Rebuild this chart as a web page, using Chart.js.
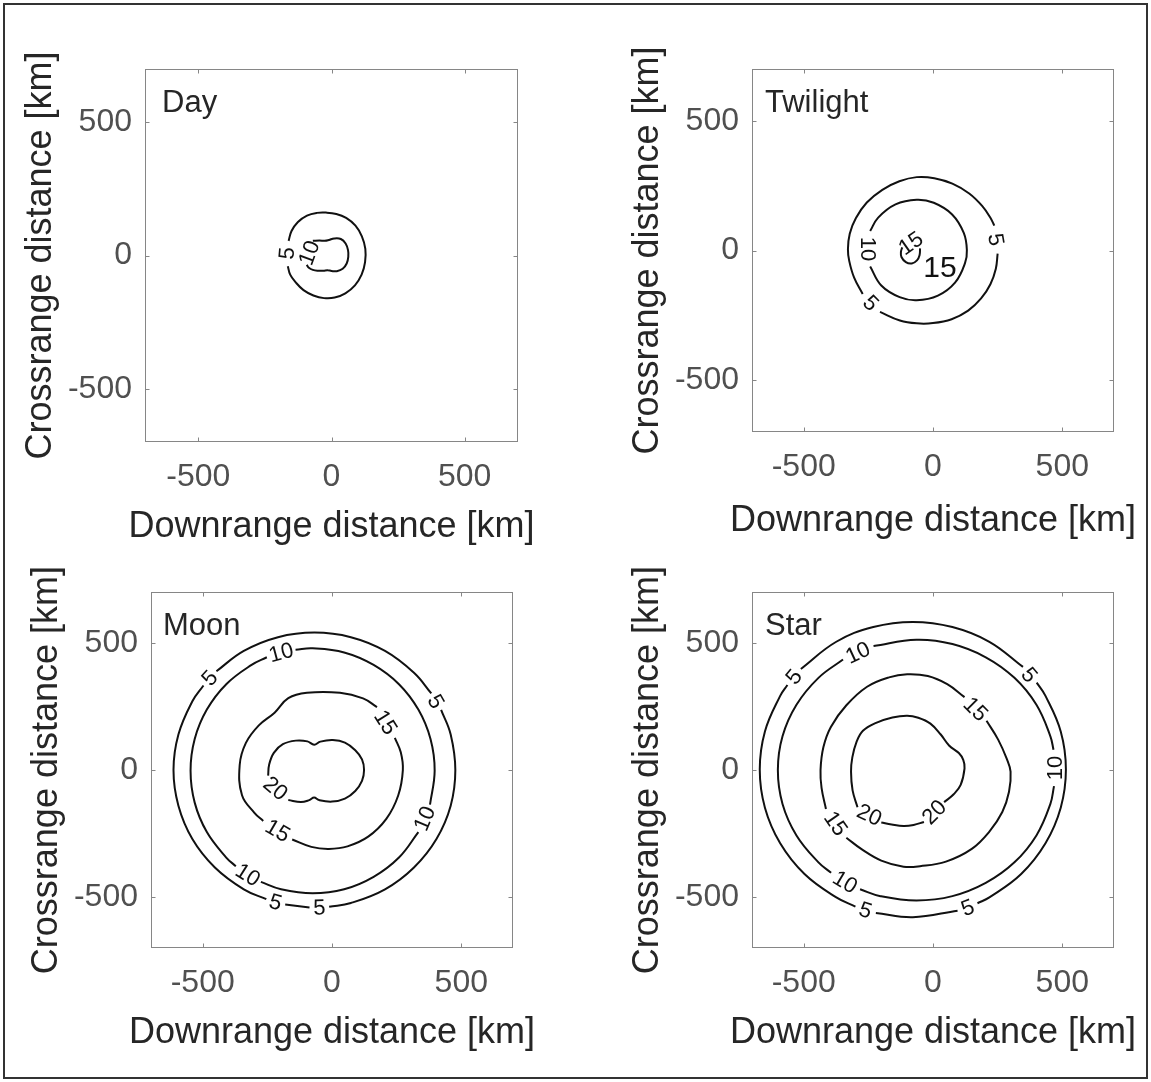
<!DOCTYPE html>
<html>
<head>
<meta charset="utf-8">
<title>Contours</title>
<script src="https://cdn.jsdelivr.net/npm/chart.js@4.4.0/dist/chart.umd.min.js"></script>
<style>
    body { margin: 0; background: #fff; }
    #frame { position: absolute; left: 3px; top: 3px; width: 1141px; height: 1072px; border: 2px solid #333; }
    canvas { position: absolute; }
</style>
</head>
<body>
<div id="frame"></div>
<canvas id="dayChart" width="575" height="560" style="left:0;top:0"></canvas>
<canvas id="twilightChart" width="576" height="560" style="left:575px;top:0"></canvas>
<canvas id="moonChart" width="575" height="522" style="left:0;top:560px"></canvas>
<canvas id="starChart" width="576" height="522" style="left:575px;top:560px"></canvas>
<script>
/* ================================
   Data (km), null = break for a label
================================ */
const xTicks = [-500, 0, 500];
const yTicks = [-500, 0, 500];
const xTitle = "Downrange distance [km]";
const yTitle = "Crossrange distance [km]";

// Day
const day5 = [[-161, 55], [-150, 92], [-126, 126], [-92, 150], [-55, 160], [-20, 161], [18, 156], [55, 141], [90, 112], [114, 72], [127, 25], [126, -25], [113, -72], [88, -112], [52, -142], [12, -158], [-28, -160], [-68, -150], [-105, -130], [-135, -100], [-155, -72], [-164, -40]];
const day10 = [[-70, 55], [-45, 56], [-25, 55], [-10, 58], [10, 64], [35, 62], [53, 45], [62, 20], [63, -5], [57, -30], [42, -50], [20, -59], [0, -58], [-15, -55], [-30, -57], [-50, -57], [-70, -54], [-85, -46], [-93, -35]];
const dayLabels = [[-168, 8, "5", -85], [-84, 10, "10", -70]];

// Twilight
const twilight5 = [[250, -12], [243, -70], [222, -130], [186, -185], [136, -232], [72, -265], [0, -280], [-63, -281], [-128, -270], [-205, -237], null, [-272, -168], [-305, -105], [-324, -40], [-329, 5], [-322, 65], [-298, 125], [-256, 185], [-196, 234], [-130, 267], [-63, 283], [5, 279], [75, 258], [140, 220], [190, 172], [222, 126], [237, 96]];
const twilight10 = [[-243, -62], [-200, -135], [-129, -180], [-63, -192], [19, -174], [86, -123], [124, -48], [131, 2], [119, 68], [74, 139], [3, 184], [-63, 196], [-145, 178], [-212, 127], [-243, 75]];
const twilight15 = [[-50, 8], [-52, -18], [-62, -38], [-82, -50], [-105, -45], [-122, -25], [-124, -5], [-119, 12]];
const twilightLabels = [[244, 42, "5", 80], [-240, -203, "5", 45], [-250, 6, "10", 90], [-86, 28, "15", -35]];
const twilightBigLabel = [27, -69, "15"];

// Moon
const moon5 = [[-447, 389], [-341, 469], [-209, 523], [-68, 541], [73, 523], [205, 469], [317, 383], [384, 302], null, [422, 237], [459, 140], [477, 0], [459, -140], [404, -271], [317, -383], [205, -469], [73, -523], [-11, -538], null, [-87, -541], [-181, -529], null, [-254, -508], [-341, -469], [-453, -383], [-540, -271], [-594, -140], [-613, 0], [-594, 140], [-540, 271], [-497, 333]];
const moon10 = [[-141, 474], [-75, 479], [47, 463], [161, 414], [259, 338], [334, 238], [381, 122], [397, -3], [379, -136], null, [334, -244], [259, -344], [161, -420], [47, -469], [-75, -485], [-197, -469], [-275, -440], null, [-372, -378], [-409, -344], [-484, -244], [-531, -128], [-547, -3], [-531, 122], [-484, 238], [-409, 338], [-311, 414], [-252, 444]];
const moon15 = [[-154, -273], [-80, -302], [-12, -310], [60, -300], [140, -262], [210, -192], [256, -100], [274, 0], [266, 70], [243, 127], null, [174, 248], [120, 282], [31, 304], [-97, 304], [-169, 283], [-222, 226], [-283, 176], [-333, 107], [-357, 20], [-348, -99], [-300, -168], [-266, -200]];
const moon20 = [[-169, -118], [-120, -126], [-88, -118], [-69, -108], [-50, -118], [0, -124], [50, -112], [90, -82], [116, -42], [124, 0], [116, 42], [90, 78], [50, 108], [3, 118], [-45, 112], [-69, 100], [-95, 113], [-140, 116], [-190, 102], [-225, 68], [-243, 22], [-247, -22]];
const moonLabels = [[-473, 362, "5", -48], [402, 270, "5", 60], [-218, -520, "5", 16], [-49, -541, "5", -2], [-197, 463, "10", -15], [358, -190, "10", -67], [-325, -412, "10", 32], [-210, -238, "15", 30], [208, 188, "15", 58], [-218, -72, "20", 40]];

// Star
const star5 = [[-511, 398], [-374, 505], [-231, 563], [-78, 583], [75, 563], [218, 505], [348, 406], null, [401, 344], [435, 292], [494, 152], [514, 2], [494, -148], [435, -288], [341, -409], [218, -501], [172, -524], null, [95, -553], [-78, -579], [-221, -562], null, [-300, -537], [-374, -501], [-497, -409], [-591, -288], [-650, -148], [-670, 2], [-650, 152], [-591, 292], [-563, 335]];
const star10 = [[-230, 488], [-64, 513], [75, 496], [204, 444], [315, 363], [400, 257], [454, 133], [466, 80], null, [468, -63], [454, -133], [400, -257], [315, -363], [204, -444], [75, -496], [-64, -513], [-203, -496], [-282, -469], null, [-394, -404], [-443, -363], [-528, -257], [-582, -133], [-600, 0], [-582, 133], [-528, 257], [-443, 363], [-348, 435]];
const star15 = [[207, 194], [252, 120], [285, 45], [300, -6], [294, -85], [268, -165], [218, -242], [150, -310], [50, -360], [-50, -378], [-114, -380], [-200, -356], [-275, -312], [-335, -266], null, [-414, -153], [-431, -70], [-435, 0], [-424, 90], [-395, 170], [-335, 255], [-255, 328], [-170, 365], [-100, 377], [-20, 370], [55, 338], [122, 287]];
const star20 = [[43, -126], [80, -95], [107, -58], [122, 7], [117, 40], [100, 67], [62, 97], [30, 140], [-10, 183], [-57, 206], [-100, 214], [-157, 207], [-220, 186], [-271, 155], [-296, 110], [-312, 50], [-317, -6], [-311, -80], [-292, -146], null, [-200, -206], [-160, -214], [-114, -220], [-75, -216], [-35, -204]];
const starLabels = [[-538, 367, "5", -51], [373, 375, "5", 50], [-261, -551, "5", 18], [134, -541, "5", -21], [-291, 462, "10", -25], [470, 8, "10", -90], [-340, -440, "10", 31], [165, 240, "15", 45], [-376, -210, "15", 55], [-246, -176, "20", 25], [4, -165, "20", -45]];

/* ================================
   Shared styling
================================ */
const FONT = "'Liberation Sans', Arial, Helvetica, sans-serif";

function toPoints(list) {
    return list.map(function (p) {
        return p ? { x: p[0], y: p[1] } : { x: NaN, y: NaN };
    });
}

/* ================================
   Box, inward ticks, axis titles, contour labels, panel name
   (axis titles drawn here: Chart.js squeezes titles to the plot width)
================================ */
function decorPlugin(cfg) {
    return {
        id: "decor",
        afterDraw: function (chart) {
            const ctx = chart.ctx;
            const a = chart.chartArea;
            const xs = chart.scales.x;
            const ys = chart.scales.y;
            const l = Math.round(a.left) + 0.5, r = Math.round(a.right) - 0.5;
            const t = Math.round(a.top) + 0.5, b = Math.round(a.bottom) - 0.5;

            ctx.save();
            ctx.strokeStyle = "#868686";
            ctx.lineWidth = 1;
            ctx.strokeRect(l, t, r - l, b - t);
            ctx.beginPath();
            xTicks.forEach(function (v) {
                const px = Math.round(xs.getPixelForValue(v)) + 0.5;
                ctx.moveTo(px, b); ctx.lineTo(px, b - 4);
                ctx.moveTo(px, t); ctx.lineTo(px, t + 4);
            });
            yTicks.forEach(function (v) {
                const py = Math.round(ys.getPixelForValue(v)) + 0.5;
                ctx.moveTo(l, py); ctx.lineTo(l + 4, py);
                ctx.moveTo(r, py); ctx.lineTo(r - 4, py);
            });
            ctx.stroke();

            // axis titles
            ctx.fillStyle = "#262626";
            ctx.textAlign = "center";
            ctx.textBaseline = "middle";
            ctx.font = "36px " + FONT;
            ctx.fillText(xTitle, (a.left + a.right) / 2, a.bottom + cfg.xTitleDy);
            ctx.save();
            ctx.translate(a.left - 104, (a.top + a.bottom) / 2);
            ctx.rotate(-Math.PI / 2);
            ctx.fillText(yTitle, 0, 0);
            ctx.restore();

            // contour level labels
            ctx.fillStyle = "#111";
            ctx.font = "22px " + FONT;
            cfg.labels.forEach(function (lb) {
                ctx.save();
                ctx.translate(xs.getPixelForValue(lb[0]), ys.getPixelForValue(lb[1]));
                ctx.rotate(lb[3] * Math.PI / 180);
                ctx.fillText(lb[2], 0, 1);
                ctx.restore();
            });
            if (cfg.bigLabel) {
                ctx.font = "30px " + FONT;
                ctx.fillText(cfg.bigLabel[2], xs.getPixelForValue(cfg.bigLabel[0]), ys.getPixelForValue(cfg.bigLabel[1]));
            }

            // panel name
            ctx.font = "31px " + FONT;
            ctx.fillStyle = "#262626";
            ctx.textAlign = "left";
            ctx.textBaseline = "alphabetic";
            ctx.fillText(cfg.title, a.left + cfg.titleDx, a.top + 43);
            ctx.restore();
        },
    };
}

/* ================================
   One contour panel
================================ */
function makePanel(id, cfg) {
    const datasets = cfg.contours.map(function (c) {
        return {
            data: toPoints(c),
            showLine: true,
            borderColor: "#111",
            borderWidth: 2,
            pointRadius: 0,
            tension: 0.4,
            spanGaps: false,
        };
    });

    const ctx = document.getElementById(id).getContext("2d");
    new Chart(ctx, {
        type: "scatter",
        data: { datasets: datasets },
        options: {
            responsive: false,
            animation: false,
            events: [],
            layout: { padding: { left: 0, top: cfg.padTop, right: cfg.padRight, bottom: 0 } },
            plugins: { legend: { display: false }, tooltip: { enabled: false } },
            scales: {
                x: {
                    type: "linear",
                    min: -700,
                    max: 700,
                    afterBuildTicks: function (s) {
                        s.ticks = xTicks.map(function (v) { return { value: v }; });
                    },
                    afterFit: function (s) { s.height = cfg.axisH; },
                    grid: { display: false, drawTicks: false },
                    border: { display: false },
                    ticks: {
                        font: { family: FONT, size: 32 },
                        color: "#505050",
                        padding: 16,
                        maxRotation: 0,
                        autoSkip: false,
                        callback: function (v) { return String(v); },
                    },
                },
                y: {
                    type: "linear",
                    min: -700,
                    max: 700,
                    afterBuildTicks: function (s) {
                        s.ticks = yTicks.map(function (v) { return { value: v }; });
                    },
                    afterFit: function (s) { s.width = cfg.axisW; },
                    grid: { display: false, drawTicks: false },
                    border: { display: false },
                    ticks: {
                        font: { family: FONT, size: 32 },
                        color: "#505050",
                        padding: 13,
                        autoSkip: false,
                        callback: function (v) { return String(v); },
                    },
                },
            },
        },
        plugins: [decorPlugin(cfg)],
    });
}

makePanel("dayChart", {
    contours: [day5, day10], labels: dayLabels, title: "Day", titleDx: 17,
    axisW: 145, axisH: 118, padTop: 69, padRight: 57, xTitleDy: 85,
});
makePanel("twilightChart", {
    contours: [twilight5, twilight10, twilight15], labels: twilightLabels, bigLabel: twilightBigLabel,
    title: "Twilight", titleDx: 13,
    axisW: 177, axisH: 128, padTop: 69, padRight: 37, xTitleDy: 89,
});
makePanel("moonChart", {
    contours: [moon5, moon10, moon15, moon20], labels: moonLabels, title: "Moon", titleDx: 12,
    axisW: 151, axisH: 134, padTop: 26, padRight: 62, xTitleDy: 85,
});
makePanel("starChart", {
    contours: [star5, star10, star15, star20], labels: starLabels, title: "Star", titleDx: 13,
    axisW: 177, axisH: 134, padTop: 26, padRight: 37, xTitleDy: 85,
});
</script>
</body>
</html>
